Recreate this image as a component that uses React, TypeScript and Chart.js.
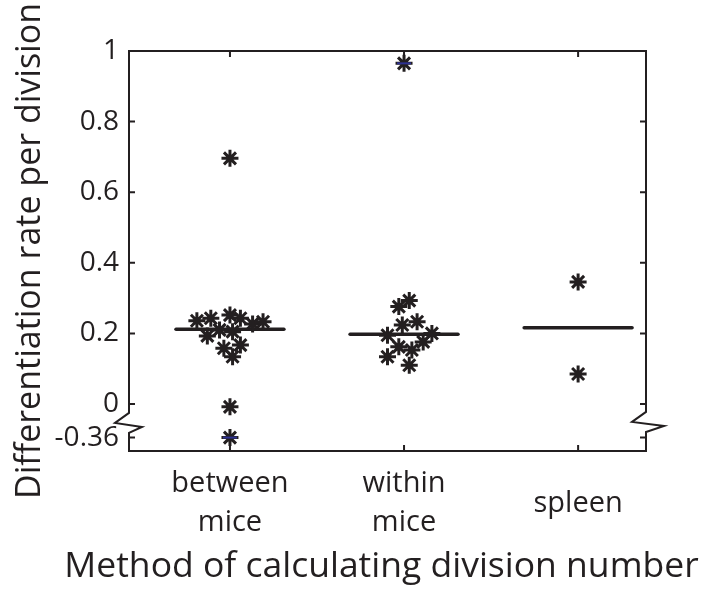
import React, { useEffect, useRef } from 'react';
import { Chart, registerables } from 'chart.js';

Chart.register(...registerables);

// ---- data ----
const categoryLabels: (string | string[])[] = [['between', 'mice'], ['within', 'mice'], 'spleen'];
const categoryPositions = [1, 2, 3];

const betweenOffsets = [0, -0.19, -0.11, 0, 0.06, 0.13, 0.19, -0.13, -0.06, 0.015, -0.035, 0.06, 0.015, 0, 0];
const betweenValues = [0.696, 0.236, 0.243, 0.252, 0.243, 0.227, 0.233, 0.193, 0.21, 0.205, 0.158, 0.167, 0.134, -0.008, -0.36];

const withinOffsets = [0, -0.03, 0.03, -0.01, 0.075, -0.095, 0.16, -0.03, 0.045, 0.11, -0.095, 0.03];
const withinValues = [0.965, 0.276, 0.293, 0.224, 0.233, 0.195, 0.2, 0.162, 0.153, 0.176, 0.134, 0.11];

const spleenOffsets = [0, 0];
const spleenValues = [0.346, 0.085];

const medians = [0.212, 0.198, 0.216];
const highlightCategory = [2, 1];
const highlightValues = [0.965, -0.36];

const yTickValues = [-0.36, 0, 0.2, 0.4, 0.6, 0.8, 1];
const yTickLabels = ['-0.36', '0', '0.2', '0.4', '0.6', '0.8', '1'];

const yTitle = 'Differentiation rate per division';
const xTitle = 'Method of calculating division number';

// broken axis: values below the break are drawn compressed
const BREAK_LIMIT = -0.05;
const BROKEN_POS = -0.095;
const toDisplay = (v: number) => (v < BREAK_LIMIT ? BROKEN_POS * (v / -0.36) : v);

const INK = '#231f20';
const FONT = "'Open Sans', 'Noto Sans', sans-serif";

const buildPoints = (center: number, offsets: number[], values: number[]) =>
  values.map((v, i) => ({ x: center + offsets[i], y: toDisplay(v) }));

const framePlugin = {
  id: 'frame',
  beforeDatasetsDraw(chart: any) {
    const { ctx, chartArea, scales } = chart;
    const { left, right, top, bottom } = chartArea;
    const xs = scales.x;
    const ys = scales.y;
    const tl = 6;
    ctx.save();
    ctx.strokeStyle = INK;
    ctx.lineWidth = 2;
    ctx.lineJoin = 'miter';
    ctx.lineCap = 'square';
    const c = ys.getPixelForValue(-0.062);
    ctx.beginPath();
    ctx.moveTo(left, top);
    ctx.lineTo(right, top);
    ctx.moveTo(left, bottom);
    ctx.lineTo(right, bottom);
    ctx.stroke();
    ctx.beginPath();
    ctx.moveTo(left, top);
    ctx.lineTo(left, c - 13);
    ctx.lineTo(left - 14, c - 3);
    ctx.lineTo(left + 13, c + 1);
    ctx.lineTo(left, c + 7);
    ctx.lineTo(left, bottom);
    ctx.stroke();
    ctx.beginPath();
    ctx.moveTo(right, top);
    ctx.lineTo(right, c - 14);
    ctx.lineTo(right - 14, c - 4);
    ctx.lineTo(right + 18, c);
    ctx.lineTo(right, c + 6);
    ctx.lineTo(right, bottom);
    ctx.stroke();
    ctx.lineCap = 'butt';
    ctx.beginPath();
    yTickValues.forEach((v) => {
      const py = ys.getPixelForValue(toDisplay(v));
      ctx.moveTo(left, py);
      ctx.lineTo(left + tl, py);
      ctx.moveTo(right, py);
      ctx.lineTo(right - tl, py);
    });
    categoryPositions.forEach((v) => {
      const px = xs.getPixelForValue(v);
      ctx.moveTo(px, bottom);
      ctx.lineTo(px, bottom - tl);
      ctx.moveTo(px, top);
      ctx.lineTo(px, top + tl);
    });
    ctx.stroke();
    ctx.restore();
  },
  afterDraw(chart: any) {
    // x-axis title, wider than the plot area (Chart.js would squeeze it)
    const { ctx, chartArea } = chart;
    ctx.save();
    ctx.fillStyle = INK;
    ctx.font = `35.5px ${FONT}`;
    ctx.textAlign = 'center';
    ctx.textBaseline = 'middle';
    ctx.fillText(xTitle, (chartArea.left + chartArea.right) / 2 - 6, 567);
    ctx.restore();
  },
};

export default function App() {
  const ref = useRef<HTMLCanvasElement>(null);

  useEffect(() => {
    document.body.style.margin = '0';
    const stars = [
      ...buildPoints(categoryPositions[0], betweenOffsets, betweenValues),
      ...buildPoints(categoryPositions[1], withinOffsets, withinValues),
      ...buildPoints(categoryPositions[2], spleenOffsets, spleenValues),
    ];
    const medianSets = medians.map((m, i) => ({
      type: 'line' as const,
      data: [
        { x: categoryPositions[i] - 0.31, y: m },
        { x: categoryPositions[i] + 0.31, y: m },
      ],
      borderColor: INK,
      borderWidth: 3.5,
      borderCapStyle: 'round' as const,
      pointRadius: 0,
      fill: false,
      order: 2,
    }));
    const chart = new Chart(ref.current as HTMLCanvasElement, {
      type: 'scatter',
      data: {
        datasets: [
          {
            data: highlightCategory.map((c, i) => ({ x: categoryPositions[c - 1], y: toDisplay(highlightValues[i]) })),
            pointStyle: 'line',
            pointRadius: 7,
            borderColor: '#2e3192',
            borderWidth: 2,
            order: 0,
          } as any,
          {
            data: stars,
            pointStyle: 'star',
            pointRadius: 8.5,
            borderColor: INK,
            backgroundColor: INK,
            borderWidth: 3,
            order: 1,
          } as any,
          ...medianSets,
        ],
      },
      options: {
        responsive: false,
        animation: false,
        devicePixelRatio: 1,
        events: [],
        clip: false as any,
        layout: { padding: { top: 51, right: 65, left: 0, bottom: 0 } },
        plugins: { legend: { display: false }, tooltip: { enabled: false } },
        scales: {
          x: {
            type: 'linear',
            min: 0.42,
            max: 3.39,
            afterBuildTicks: (s: any) => {
              s.ticks = categoryPositions.map((v) => ({ value: v }));
            },
            afterFit: (s: any) => {
              s.height = 143;
            },
            grid: { display: false, drawTicks: false },
            border: { display: false },
            ticks: {
              autoSkip: false,
              maxRotation: 0,
              minRotation: 0,
              crossAlign: 'center',
              padding: 33,
              color: INK,
              font: { family: FONT, size: 29, lineHeight: 1.35 },
              callback: (v: any) => categoryLabels[categoryPositions.indexOf(Number(v))] as any,
            },
            title: { display: false },
          },
          y: {
            type: 'linear',
            min: -0.133,
            max: 1,
            afterBuildTicks: (s: any) => {
              s.ticks = yTickValues.map((v) => ({ value: toDisplay(v) }));
            },
            afterFit: (s: any) => {
              s.width = 129;
            },
            grid: { display: false, drawTicks: false },
            border: { display: false },
            ticks: {
              padding: 10,
              color: INK,
              font: { family: FONT, size: 28 },
              callback: (v: any) => {
                const idx = yTickValues.findIndex((t) => Math.abs(toDisplay(t) - Number(v)) < 1e-6);
                return idx >= 0 ? yTickLabels[idx] : '';
              },
            },
            title: {
              display: true,
              text: yTitle,
              color: INK,
              font: { family: FONT, size: 34, lineHeight: 1.2 },
              padding: { top: 10, bottom: 0 },
            },
          },
        },
      },
      plugins: [framePlugin],
    } as any);
    return () => chart.destroy();
  }, []);

  return (
    <div style={{ width: 711, height: 594 }}>
      <canvas ref={ref} width={711} height={594} style={{ display: 'block' }} />
    </div>
  );
}
